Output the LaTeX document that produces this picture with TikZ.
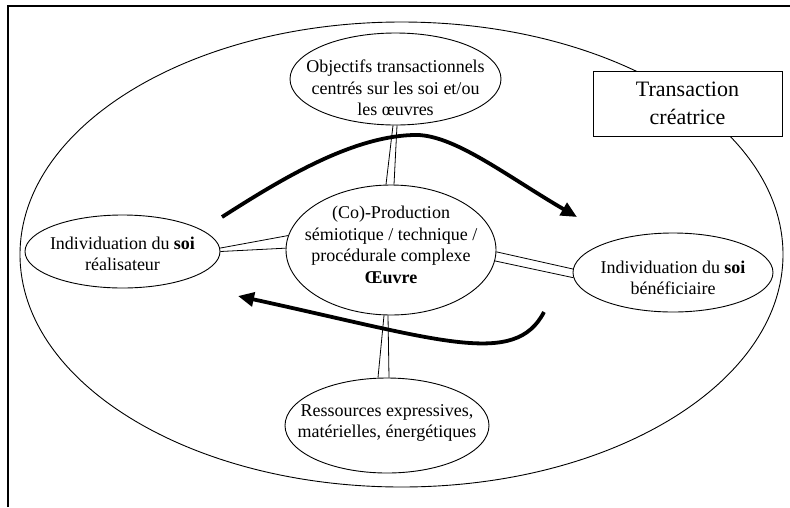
\documentclass[tikz,border=0pt]{standalone}
\usepackage{fontspec}
\setmainfont{Liberation Serif}
\usetikzlibrary{shapes.geometric,arrows.meta,calc}
\begin{document}
\begin{tikzpicture}[x=1pt,y=-1pt,
  ell/.style={draw, ellipse, line width=0.9pt, inner sep=0pt},
  txt/.style={align=center, font=\fontsize{18}{21.5}\selectfont, inner sep=0pt},
  link/.style={line width=0.8pt},
  flow/.style={line width=3.8pt, -{Triangle[length=16pt,width=14pt]}}]
\useasboundingbox (0,0) rectangle (790,507);
\draw[line width=1.4pt] (8,507) -- (8,6) -- (790,6);
\draw[line width=0.9pt] (401.5,254.5) ellipse [x radius=381.5pt, y radius=232.5pt];
\node[draw, fill=white, line width=0.9pt, minimum width=189pt, minimum height=65pt, inner sep=0pt, align=center, font=\fontsize{22}{28}\selectfont] (box) at (687.5,103.5) {Transaction\\créatrice};
% ellipses
\node[ell, minimum width=211pt, minimum height=92pt] (T) at (395.5,79) {};
\node[ell, minimum width=195pt, minimum height=73pt] (L) at (122.5,251.5) {};
\node[ell, minimum width=210pt, minimum height=130pt] (C) at (391,250) {};
\node[ell, minimum width=200pt, minimum height=79pt] (R) at (673,272.5) {};
\node[ell, minimum width=204pt, minimum height=95pt] (B) at (387,425.5) {};
% texts
\node[txt] (Tt) at (395.5,88) {Objectifs transactionnels\\centrés sur les soi et/ou\\les œuvres};
\node[txt] (Lt) at (122.5,254) {Individuation du \textbf{soi}\\réalisateur};
\node[txt] (Ct) at (391,245) {(Co)-Production\\sémiotique / technique /\\procédurale complexe\\\textbf{Œuvre}};
\node[txt] (Rt) at (673,278) {Individuation du \textbf{soi}\\bénéficiaire};
\node[txt] (Bt) at (387,423) {Ressources expressives,\\matérielles, énergétiques};
% double connectors
\draw[link] ($(T.south)+(-2.5,0)$) -- ($(C.north)+(-5,0)$);
\draw[link] ($(T.south)+(1.5,0)$) -- ($(C.north)+(3,0)$);
\draw[link] (L.2.7) -- (C.172);
\draw[link] (L.-0.9) -- (C.179.5);
\draw[link] (C.-1.1) -- (R.178);
\draw[link] (C.-6.1) -- (R.183.8);
\draw[link] ($(C.south)+(-7,0)$) -- ($(B.north)+(-9,0)$);
\draw[link] ($(C.south)+(-3,0)$) -- ($(B.north)+(2,0)$);
% flow arrows
\coordinate (a1s) at (222,217);
\coordinate (a1e) at (577,217);
\coordinate (a2s) at (544,312);
\coordinate (a2e) at (238,296);
\draw[flow] (a1s) .. controls (280,180) and (350,137) .. (413,135) .. controls (452,133) and (505,175) .. (a1e);
\draw[flow] (a2s) .. controls (515,368) and (440,340) .. (a2e);
\end{tikzpicture}
\end{document}
